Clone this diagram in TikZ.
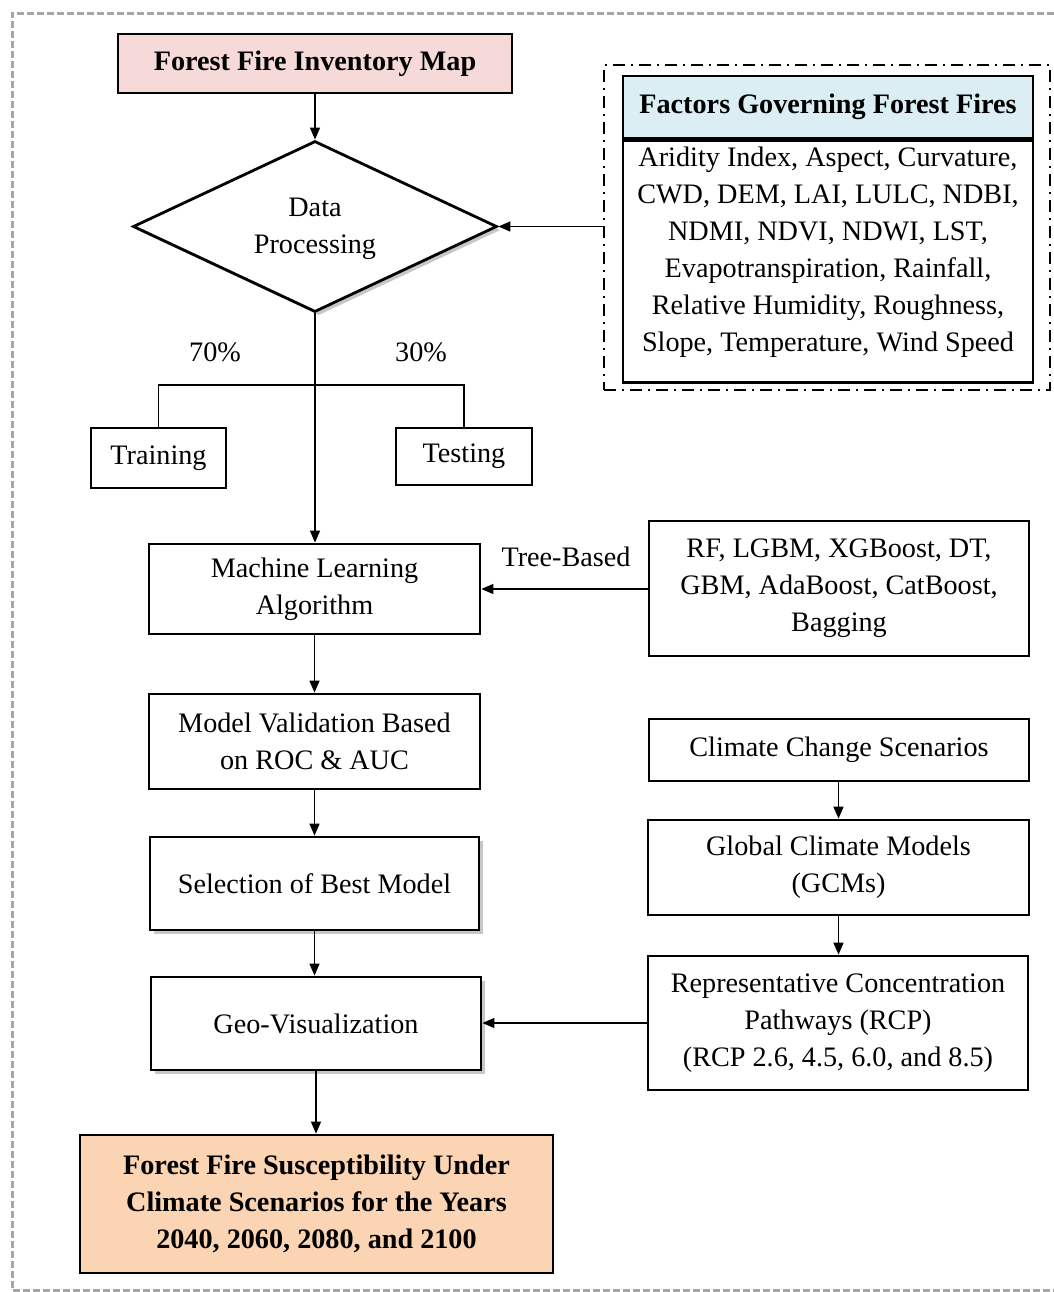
\documentclass[tikz,border=0pt]{standalone}
\usepackage{fontspec}
\setmainfont{Liberation Serif}
\usetikzlibrary{arrows.meta,shapes.geometric,shadows}
\definecolor{pinkfill}{HTML}{F6DADA}
\definecolor{bluefill}{HTML}{DAEEF3}
\definecolor{peachfill}{HTML}{FBD4B4}
\begin{document}
\begin{tikzpicture}[x=0.5pt,y=-0.5pt,
  font=\fontsize{14.1}{18.5}\selectfont,
  box/.style={draw, line width=1.4pt, inner sep=0pt, align=center, fill=white},
  boldtext/.style={font=\fontsize{14.1}{18.5}\selectfont\bfseries},
  conn/.style={line width=0.7pt, -{Triangle[length=6pt,width=5pt]}},
  plain/.style={line width=0.7pt},
  shad/.style={drop shadow={shadow xshift=1.8pt, shadow yshift=-1.8pt, opacity=0.22, fill=black}},
  txt/.style={inner sep=0pt, align=center}]
\useasboundingbox (0,0) rectangle (1054,1292);
% outer gray dashed frame
\draw[black!35, line width=1.5pt, dash pattern=on 3.5pt off 1.5pt] (1054,13) -- (12,13) -- (12,1290) -- (1054,1290);

% left column
\node[box, boldtext, fill=pinkfill, minimum width=197pt, minimum height=29.5pt] (inv) at (315,63.5) {Forest Fire Inventory Map};
\node[draw, diamond, aspect=2.13, line width=1.4pt, fill=white, shad, minimum width=182pt, minimum height=85.5pt, inner sep=0pt, align=center] (dp) at (315,226.5) {};
\node[txt] (dptext) at (315,229) {Data\\Processing};

\node[box, minimum width=67.5pt, minimum height=30pt] (train) at (158.5,458) {Training};
\node[box, minimum width=68pt, minimum height=28.5pt] (test) at (464,456.5) {Testing};
\node[txt] (p70) at (215,352) {70\%};
\node[txt] (p30) at (421,352) {30\%};
\coordinate (split) at (315,385);

\node[box, minimum width=165.5pt, minimum height=45pt] (ml) at (314.5,589) {Machine Learning\\Algorithm};
\node[box, minimum width=165.5pt, minimum height=47.5pt] (mv) at (314.5,741.5) {Model Validation Based\\on ROC \& AUC};
\node[box, shad, minimum width=164.5pt, minimum height=46.5pt] (sel) at (314.5,883.5) {Selection of Best Model};
\node[box, shad, minimum width=165pt, minimum height=46.5pt] (geo) at (316,1023.5) {Geo-Visualization};
\node[box, boldtext, fill=peachfill, minimum width=236.5pt, minimum height=69pt] (final) at (316.5,1204) {Forest Fire Susceptibility Under\\Climate Scenarios for the Years\\2040, 2060, 2080, and 2100};

% factors block
\node[draw, line width=1pt, dash pattern=on 6pt off 3pt on 1pt off 3pt, minimum width=223pt, minimum height=162.5pt, inner sep=0pt] (fout) at (827,227.5) {};
\node[box, boldtext, fill=bluefill, minimum width=205pt, minimum height=31pt] (ftitle) at (828,107) {Factors Governing Forest Fires};
\node[box, minimum width=205pt, minimum height=121pt, anchor=north] (fbody) at (ftitle.south) {};
\node[txt] (flist) at (828,252) {Aridity Index, Aspect, Curvature,\\CWD, DEM, LAI, LULC, NDBI,\\NDMI, NDVI, NDWI, LST,\\Evapotranspiration, Rainfall,\\Relative Humidity, Roughness,\\Slope, Temperature, Wind Speed};

% right column
\node[box, minimum width=190pt, minimum height=67.5pt] (rf) at (839,588.5) {RF, LGBM, XGBoost, DT,\\GBM, AdaBoost, CatBoost,\\Bagging};
\node[txt] (tb) at (566,557) {Tree-Based};
\node[box, minimum width=190pt, minimum height=31pt] (ccs) at (839,750) {Climate Change Scenarios};
\node[box, minimum width=190.5pt, minimum height=47.5pt] (gcm) at (838.5,867.5) {Global Climate Models\\(GCMs)};
\node[box, minimum width=190pt, minimum height=67pt] (rcp) at (838,1023) {Representative Concentration\\Pathways (RCP)\\(RCP 2.6, 4.5, 6.0, and 8.5)};

% connectors
\draw[conn] (inv.south) -- (inv.south |- dp.north);
\draw[conn] (fout.west |- dp.east) -- (dp.east);
\draw[conn] (dp.south) -- (dp.south |- ml.north);
\draw[plain] (train.north) |- (split) -| (test.north);
\draw[conn] (ml.south) -- (ml.south |- mv.north);
\draw[conn] (mv.south) -- (mv.south |- sel.north);
\draw[conn] (sel.south) -- (sel.south |- geo.north);
\draw[conn] (geo.south) -- (geo.south |- final.north);
\draw[conn] (rf.west |- ml.east) -- (ml.east);
\draw[conn] (ccs.south -| gcm.north) -- (gcm.north);
\draw[conn] (gcm.south) -- (gcm.south |- rcp.north);
\draw[conn] (rcp.west) -- (rcp.west -| geo.east);
\end{tikzpicture}
\end{document}
